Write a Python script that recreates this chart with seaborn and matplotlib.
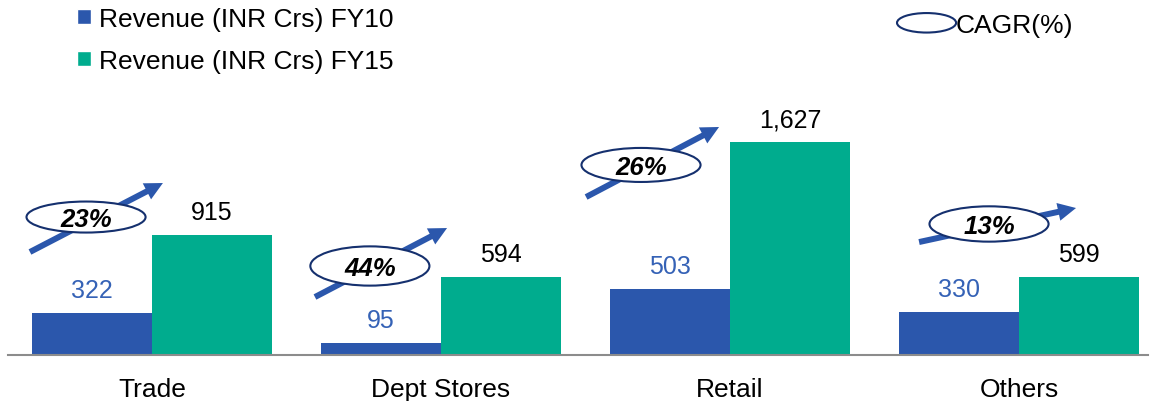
import matplotlib
matplotlib.use("Agg")
import matplotlib.pyplot as plt
import pandas as pd
import seaborn as sns
from matplotlib.patches import Ellipse, FancyArrowPatch, Patch, ArrowStyle
from matplotlib.legend_handler import HandlerPatch

# ---- data -------------------------------------------------------------
categories = ["Trade", "Dept Stores", "Retail", "Others"]
revenue_fy10 = [322, 95, 503, 330]
revenue_fy15 = [915, 594, 1627, 599]
cagr_pct = [23, 44, 26, 13]
series_names = ["Revenue (INR Crs) FY10", "Revenue (INR Crs) FY15"]

# ---- styling ------------------------------------------------------------
BLUE = "#2B57AC"
GREEN = "#00AC8E"
LABEL_BLUE = "#3562B6"
NAVY = "#15306E"
AXIS_GREY = "#8C8C8C"

# CAGR badge placement per category (x offsets are relative to the
# category centre, y values in revenue units):
# arrow tail dx, tail y, arrow tip dx, tip y, oval dx, oval y, oval height
badge_layout = [
    (-0.422, 787, 0.038, 1314, -0.228, 1054, 237),
    (-0.436, 443, 0.021, 970, -0.246, 680, 300),
    (-0.498, 1207, -0.038, 1742, -0.308, 1452, 260),
    (-0.346, 863, 0.197, 1123, -0.104, 1001, 270),
]
OVAL_WIDTH = 0.412

sns.set_style("white")
plt.rcParams["font.family"] = ["Liberation Sans", "DejaVu Sans"]
plt.rcParams["text.color"] = "black"

df = pd.DataFrame({
    "Category": categories * 2,
    "Series": [series_names[0]] * len(categories) + [series_names[1]] * len(categories),
    "Revenue": revenue_fy10 + revenue_fy15,
})

fig = plt.figure(figsize=(11.56, 4.02), dpi=100)
ax = fig.add_axes([8 / 1156, 46 / 402, 1140 / 1156, 294.5 / 402])

sns.barplot(
    data=df, x="Category", y="Revenue", hue="Series",
    palette=[BLUE, GREEN], saturation=1, width=0.83, gap=0,
    linewidth=0, errorbar=None, legend=False, ax=ax,
)

ax.set_ylim(0, 2250)
ax.set_xlim(-0.498, 3.446)
ax.set_xlabel("")
ax.set_ylabel("")
ax.set_yticks([])
ax.tick_params(axis="x", length=0, pad=15.5, labelsize=19, labelcolor="black")
for side in ("left", "right", "top"):
    ax.spines[side].set_visible(False)
ax.spines["bottom"].set_color(AXIS_GREY)
ax.spines["bottom"].set_linewidth(1.5)

# value labels above each bar
for container, values, color in zip(ax.containers, (revenue_fy10, revenue_fy15),
                                    (LABEL_BLUE, "black")):
    for bar, v in zip(container, values):
        ax.annotate(f"{v:,}", xy=(bar.get_x() + bar.get_width() / 2, bar.get_height()),
                    xytext=(0, 11.5), textcoords="offset points",
                    ha="center", va="baseline", fontsize=18, color=color)

# CAGR badges: rising arrow behind an oval with the growth rate
arrow_style = ArrowStyle.Simple(head_length=13, head_width=13, tail_width=4.3)
for i, (pct, lay) in enumerate(zip(cagr_pct, badge_layout)):
    tdx, ty, hdx, hy, odx, oy, oh = lay
    arrow = FancyArrowPatch((i + tdx, ty), (i + hdx, hy), arrowstyle=arrow_style,
                            mutation_scale=1, color=BLUE, shrinkA=0, shrinkB=0,
                            linewidth=0, zorder=3)
    ax.add_patch(arrow)
    oval = Ellipse((i + odx, oy), OVAL_WIDTH, oh, facecolor="white",
                   edgecolor=NAVY, linewidth=1.5, zorder=4)
    ax.add_patch(oval)
    ax.annotate(f"{pct}%", xy=(i + odx, oy), xytext=(0, -6.6),
                textcoords="offset points", ha="center", va="baseline",
                fontsize=18.5, fontweight="bold", fontstyle="italic",
                color="black", zorder=5)

# series legend (top left)
fig.legend(
    handles=[Patch(facecolor=BLUE), Patch(facecolor=GREEN)], labels=series_names,
    loc="upper left", bbox_to_anchor=(77 / 1156, 1 - 8 / 402), frameon=False,
    fontsize=19, handlelength=0.53, handleheight=0.53, handletextpad=0.3,
    labelspacing=0.68, borderpad=0, borderaxespad=0, labelcolor="black",
)


def make_oval(legend, orig_handle, xdescent, ydescent, width, height, fontsize):
    return Ellipse((width / 2 - xdescent, height / 2 - ydescent), width, height)


# CAGR legend (top right)
fig.legend(
    handles=[Patch(facecolor="white", edgecolor=NAVY, linewidth=1.5)],
    labels=["CAGR(%)"], loc="upper left",
    bbox_to_anchor=(897 / 1156, 1 - 14 / 402), frameon=False, fontsize=19,
    handlelength=2.24, handleheight=0.76, handletextpad=0.0,
    borderpad=0, borderaxespad=0, labelcolor="black",
    handler_map={Patch: HandlerPatch(patch_func=make_oval)},
)

fig.savefig("out.png", dpi=100)
